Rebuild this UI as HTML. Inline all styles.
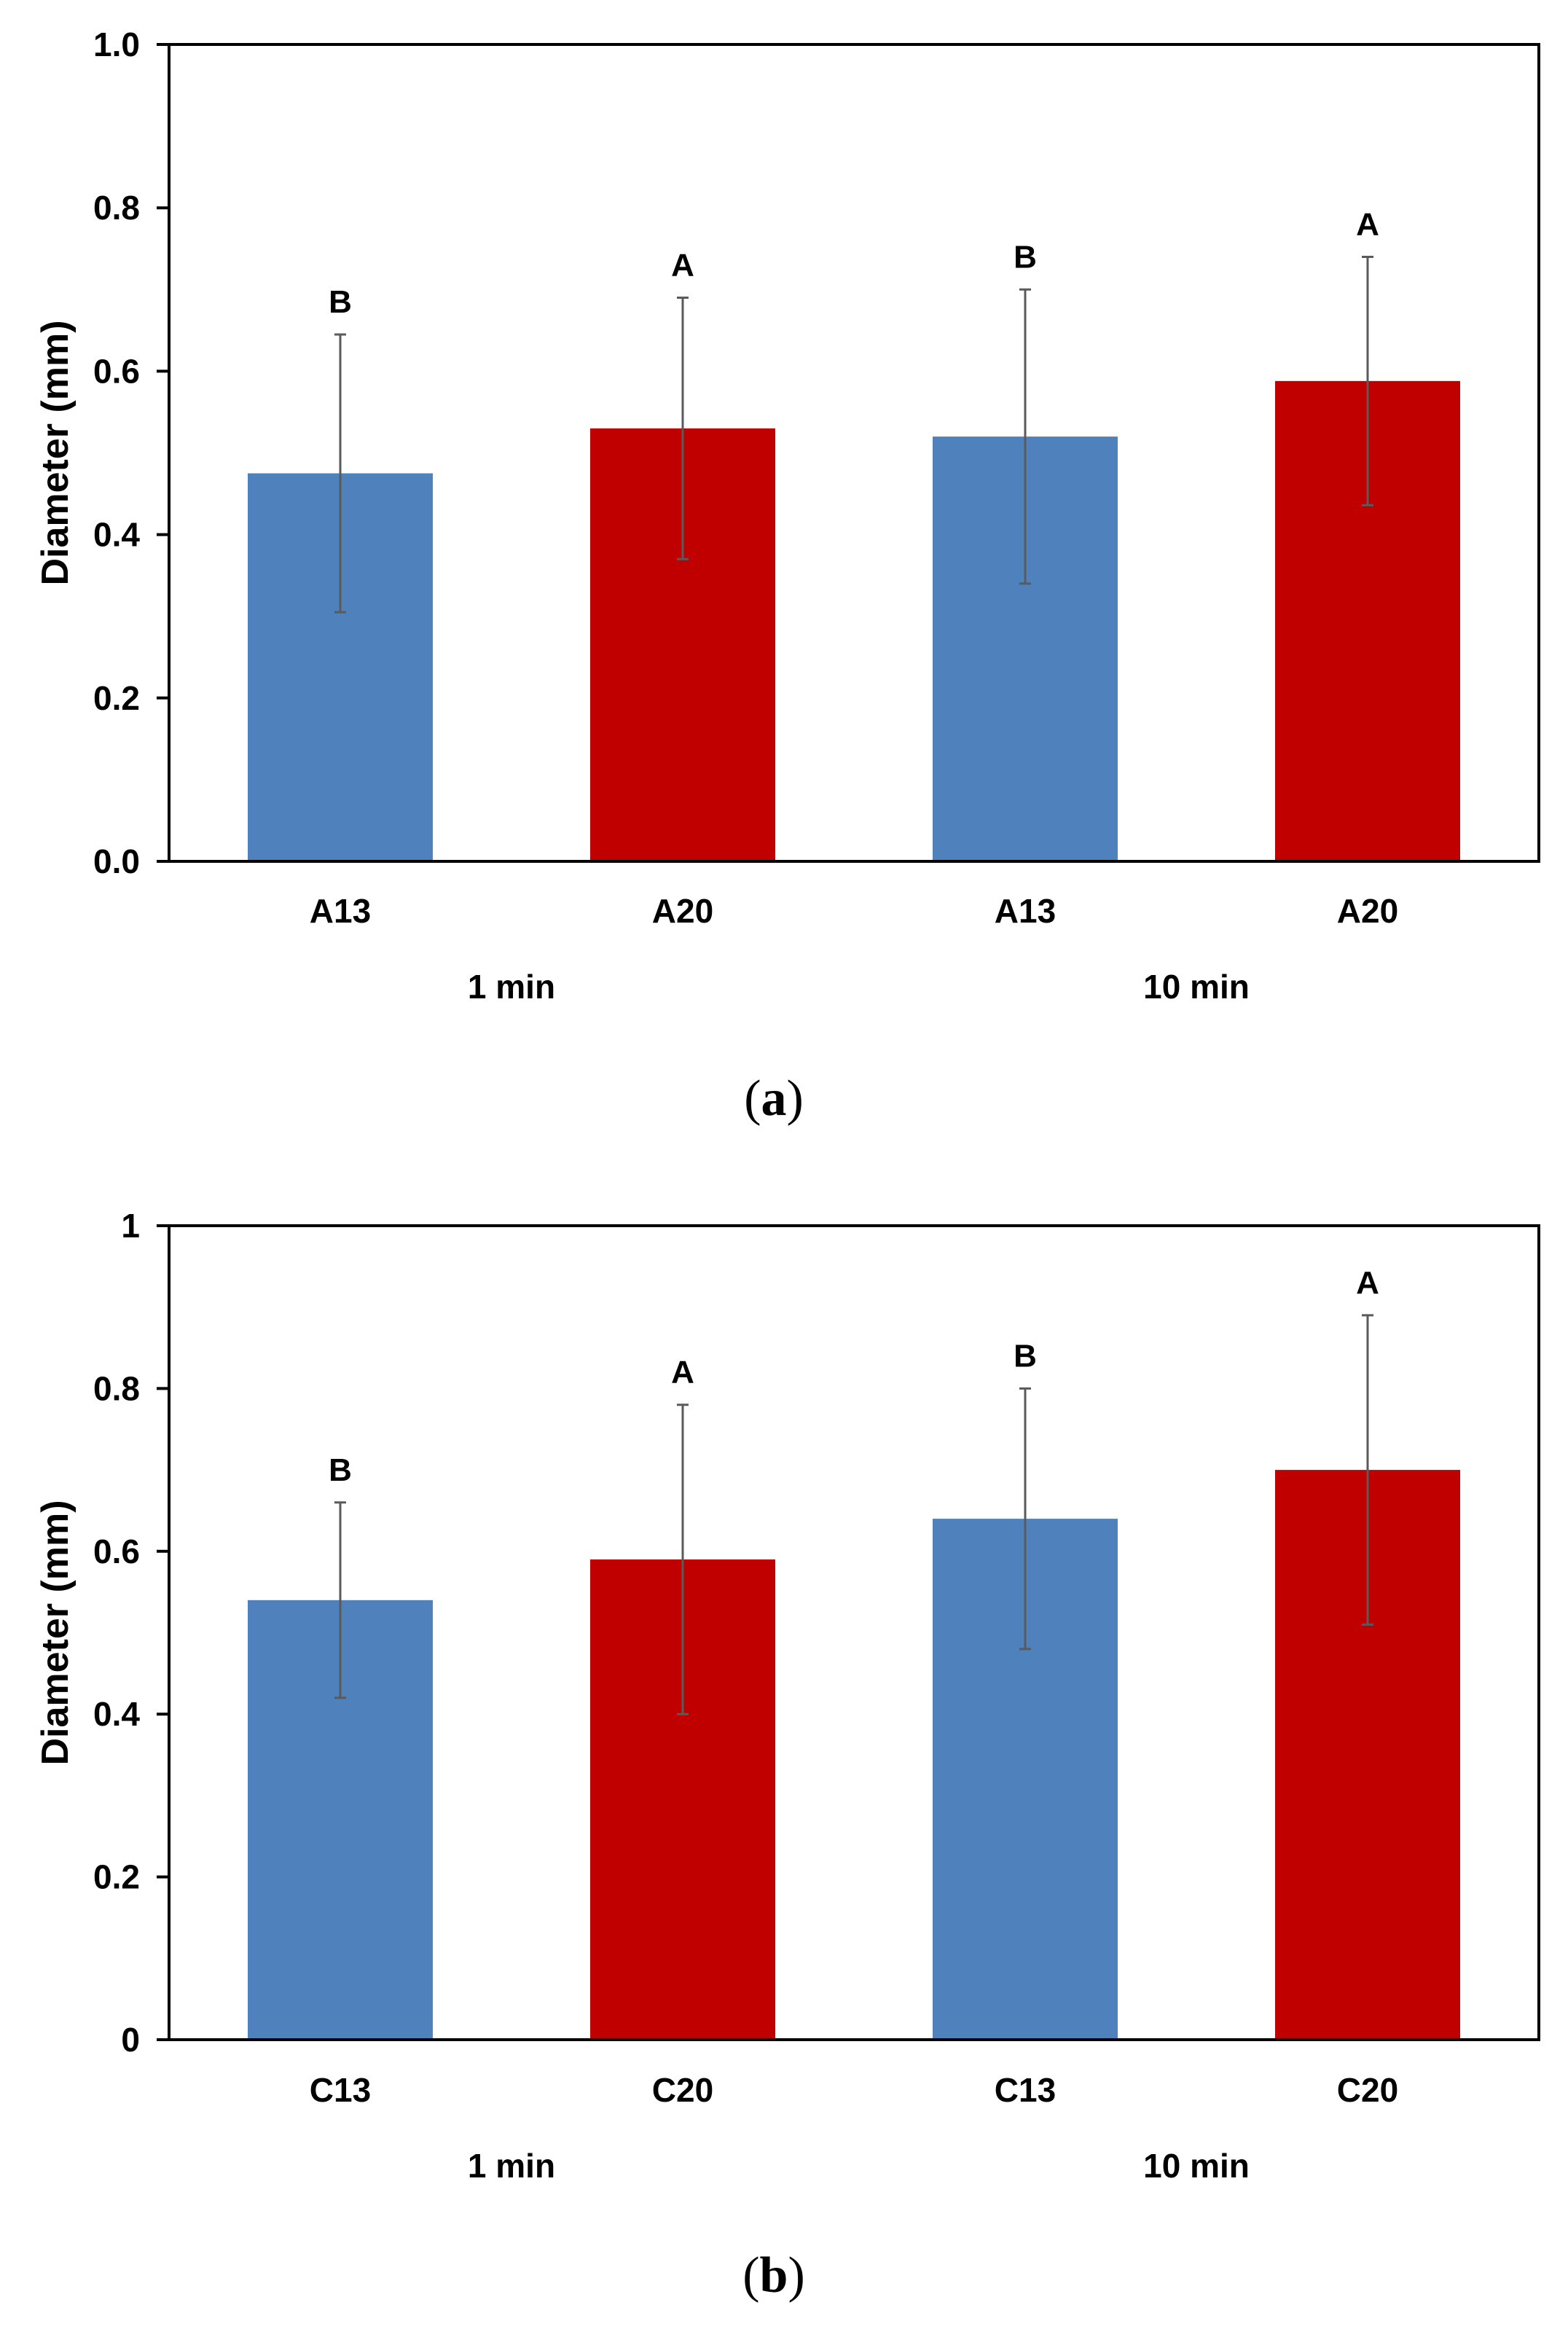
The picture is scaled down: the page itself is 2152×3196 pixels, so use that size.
<!DOCTYPE html>
<html><head><meta charset="utf-8"><style>
html,body{margin:0;padding:0;background:#fff;}
svg{display:block;}
text{font-family:"Liberation Sans",Arial,sans-serif;font-weight:bold;fill:#000;}
</style></head><body>
<svg id="svg" width="2152" height="3196" viewBox="0 0 2152 3196" xmlns="http://www.w3.org/2000/svg"></svg>
<script>
const categoriesA = ["A13","A20","A13","A20"];
const valuesA = [0.475,0.53,0.52,0.588];
const errA = [0.17,0.16,0.18,0.152];
const lettersA = ["B","A","B","A"];
const ticksA = ["0.0","0.2","0.4","0.6","0.8","1.0"];
const categoriesB = ["C13","C20","C13","C20"];
const valuesB = [0.54,0.59,0.64,0.70];
const errB = [0.12,0.19,0.16,0.19];
const lettersB = ["B","A","B","A"];
const ticksB = ["0","0.2","0.4","0.6","0.8","1"];
const tickValues = [0,0.2,0.4,0.6,0.8,1.0];
const groups = ["1 min","10 min"];
const colors = ["#4f81bd","#c00000","#4f81bd","#c00000"];
const NS="http://www.w3.org/2000/svg";
const svg=document.getElementById('svg');
function mk(tag,attrs,parent){const e=document.createElementNS(NS,tag);for(const k in attrs)e.setAttribute(k,attrs[k]);(parent||svg).appendChild(e);return e;}
function chart(id,cfg){
  const g=mk('g',{});
  
  
  const L=232,R=2112,T=cfg.top,B=cfg.bottom;
  const y=v=>B-(v/1.0)*(B-T);
  const band=(R-L)/cfg.cats.length;
  const x=i=>L+band*(i+0.5);
  const bw=254;
  cfg.vals.forEach((v,i)=>{
    const r=mk('rect',{x:x(i)-bw/2,y:y(v),width:bw,height:B-y(v),fill:colors[i]},g);
    
    
    const hi=v+cfg.err[i],lo=v-cfg.err[i];
    const eb=mk('path',{d:`M${x(i)},${y(hi)}V${y(lo)}M${x(i)-8},${y(hi)}H${x(i)+8}M${x(i)-8},${y(lo)}H${x(i)+8}`,stroke:'#5a5a5a','stroke-width':3,fill:'none'},g);
    
    
    const lt=mk('text',{x:x(i),y:y(hi)-30,'text-anchor':'middle','font-size':44},g);
    lt.textContent=cfg.letters[i];
    
    
    const cl=mk('text',{x:x(i),y:cfg.catY,'text-anchor':'middle','font-size':46},g);
    cl.textContent=cfg.cats[i];
    
    
  });
  const fr=mk('rect',{x:L,y:T,width:R-L,height:B-T,fill:'none',stroke:'#000','stroke-width':4},g);
  
  
  tickValues.forEach((t,i)=>{
    const tk=mk('line',{x1:L-17,x2:L,y1:y(t),y2:y(t),stroke:'#000','stroke-width':4},g);
    
    
    const tl=mk('text',{x:L-40,y:y(t)+16,'text-anchor':'end','font-size':46},g);
    tl.textContent=cfg.ticks[i];
    
    
  });
  groups.forEach((gn,j)=>{
    const gl=mk('text',{x:(x(2*j)+x(2*j+1))/2,y:cfg.groupY,'text-anchor':'middle','font-size':46},g);
    gl.textContent=gn;
    
    
  });
  const yt=mk('text',{x:0,y:0,'text-anchor':'middle','font-size':52,transform:`translate(93,${(T+B)/2}) rotate(-90)`},g);
  yt.textContent='Diameter (mm)';
  
  
  const pl=mk('text',{x:1062,y:cfg.panelY,'text-anchor':'middle','font-size':70,style:'font-family:"Liberation Serif",serif;font-weight:normal'},g);
  pl.innerHTML='(<tspan font-weight="bold">'+cfg.panel+'</tspan>)';
  
  
}
chart('chart-a',{top:61,bottom:1182,cats:categoriesA,vals:valuesA,err:errA,letters:lettersA,ticks:ticksA,catY:1266,groupY:1370,panelY:1530,panel:'a'});
chart('chart-b',{top:1682,bottom:2799,cats:categoriesB,vals:valuesB,err:errB,letters:lettersB,ticks:ticksB,catY:2884,groupY:2988,panelY:3145,panel:'b'});
</script>
</body></html>
